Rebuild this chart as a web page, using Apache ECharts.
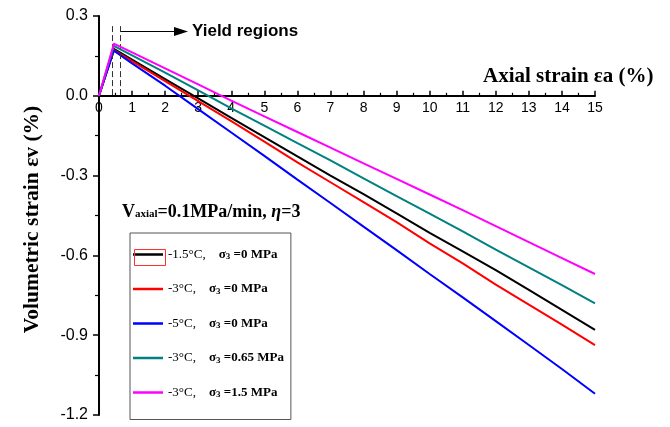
<!DOCTYPE html>
<html>
<head>
<meta charset="utf-8">
<script src="https://cdn.jsdelivr.net/npm/echarts@6/dist/echarts.min.js"></script>
<style>
  html, body { margin: 0; padding: 0; background: #fff; }
  #chart { width: 670px; height: 427px; }
</style>
</head>
<body>
<div id="chart"></div>
<script>
  // axial strain (%) sample positions
  const strainAxial = [0, 0.45, 1, 2, 3, 4, 5, 6, 7, 8, 9, 10, 11, 12, 13, 14, 15]

  // volumetric strain (%) for each test
  const volT15P0 = [0, 0.176, 0.136, 0.063, -0.01, -0.083, -0.155, -0.228, -0.3, -0.37, -0.442, -0.515, -0.585, -0.655, -0.73, -0.805, -0.88]
  const volT3P0 = [0, 0.172, 0.13, 0.055, -0.02, -0.095, -0.172, -0.25, -0.325, -0.4, -0.475, -0.555, -0.63, -0.71, -0.785, -0.86, -0.937]
  const volT5P0 = [0, 0.17, 0.122, 0.038, -0.05, -0.138, -0.226, -0.315, -0.403, -0.492, -0.58, -0.67, -0.758, -0.847, -0.937, -1.027, -1.12]
  const volT3P065 = [0, 0.188, 0.152, 0.087, 0.02, -0.047, -0.112, -0.178, -0.243, -0.31, -0.377, -0.443, -0.51, -0.578, -0.645, -0.712, -0.78]
  const volT3P15 = [0, 0.196, 0.163, 0.103, 0.043, -0.018, -0.077, -0.136, -0.195, -0.254, -0.312, -0.371, -0.43, -0.49, -0.55, -0.61, -0.67]

  const temps = ['-1.5°C', '-3°C', '-5°C', '-3°C', '-3°C']
  const pressures = ['0 MPa', '0 MPa', '0 MPa', '0.65 MPa', '1.5 MPa']
  const colors = ['#000000', '#ff0000', '#0000ff', '#008080', '#ff00ff']
  const seriesValues = [volT15P0, volT3P0, volT5P0, volT3P065, volT3P15]

  // yield region markers (axial strain %)
  const yieldBounds = [0.4, 0.64]

  const serif = '"Liberation Serif", "Times New Roman", serif'
  const sans = '"Liberation Sans", Arial, sans-serif'

  const gridTop = 16
  const gridBottom = 12
  const yMin = -1.2
  const yMax = 0.3

  const chart = echarts.init(document.getElementById('chart'))

  const names = temps.map((t, i) => t + '|' + pressures[i] + '|' + i)

  const series = seriesValues.map((vals, i) => ({
    name: names[i],
    type: 'line',
    symbol: 'none',
    data: strainAxial.map((x, k) => [x, vals[k]]),
    lineStyle: { color: colors[i], width: 2 },
    itemStyle: { color: colors[i] },
    z: 2 + i
  }))

  // dashed yield bounds and arrow
  series[4].markLine = {
    silent: true,
    symbol: 'none',
    label: { show: false },
    lineStyle: { color: '#333', width: 1, type: [6, 3] },
    data: yieldBounds.map(x => [{ coord: [x, 0.262] }, { coord: [x, 0] }])
  }
  series[3].markLine = {
    silent: true,
    symbol: ['none', 'triangle'],
    symbolSize: [9, 14],
    label: { show: false },
    lineStyle: { color: '#000', width: 1.2, type: 'solid' },
    data: [[{ coord: [yieldBounds[1], 0.242] }, { coord: [2.48, 0.242] }]]
  }

  // put the x axis line on y = 0 (shift up from the grid bottom)
  const plotH = 427 - gridTop - gridBottom
  const zeroShift = plotH * (0 - yMin) / (yMax - yMin)

  const option = {
    animation: false,
    backgroundColor: '#fff',
    grid: { left: 99, right: 75, top: gridTop, bottom: gridBottom, outerBoundsMode: 'none', containLabel: false },
    xAxis: {
      type: 'value',
      min: 0,
      max: 15,
      interval: 1,
      position: 'bottom',
      offset: -zeroShift,
      axisLine: { onZero: false, lineStyle: { color: '#000', width: 2 } },
      axisTick: { inside: true, length: 5, lineStyle: { color: '#000', width: 1.5 } },
      minorTick: { show: true, splitNumber: 2, length: 3, lineStyle: { color: '#000', width: 1.2 } },
      axisLabel: { color: '#000', fontSize: 14, fontFamily: sans, margin: 5 },
      splitLine: { show: false }
    },
    yAxis: {
      type: 'value',
      min: yMin,
      max: yMax,
      interval: 0.3,
      name: 'Volumetric strain εv (%)',
      nameLocation: 'middle',
      nameRotate: 90,
      nameGap: 56,
      nameTextStyle: { color: '#000', fontFamily: serif, fontWeight: 'bold', fontSize: 21.5, padding: [0, 8, 0, 0] },
      axisLine: { onZero: false, lineStyle: { color: '#000', width: 2 } },
      axisTick: { length: 6, lineStyle: { color: '#000', width: 1.5 } },
      minorTick: { show: true, splitNumber: 2, length: 4, lineStyle: { color: '#000', width: 1.2 } },
      axisLabel: {
        color: '#000', fontSize: 16, fontFamily: sans, margin: 11,
        formatter: v => v.toFixed(1)
      },
      splitLine: { show: false }
    },
    legend: {
      orient: 'vertical',
      left: 130,
      top: 233,
      backgroundColor: '#fff',
      borderColor: '#555',
      borderWidth: 1,
      borderRadius: 0,
      padding: [15, 7, 20, 3],
      icon: 'path://M0,0L30,0L30,2.5L0,2.5Z',
      itemWidth: 30,
      itemHeight: 14,
      itemGap: 21,
      data: names,
      formatter: name => {
        const [t, p] = name.split('|')
        return '{t|' + t + ',}    {b|σ}{s|3}{b| =' + p + '}'
      },
      textStyle: {
        color: '#000',
        fontFamily: serif,
        fontSize: 13,
        rich: {
          t: { fontFamily: serif, fontSize: 13, color: '#000' },
          b: { fontFamily: serif, fontSize: 13, fontWeight: 'bold', color: '#000' },
          s: { fontFamily: serif, fontSize: 9, fontWeight: 'bold', color: '#000', padding: [5, 0, 0, 0] }
        }
      }
    },
    graphic: [
      {
        type: 'text',
        left: 483,
        top: 66,
        style: {
          text: 'Axial strain εa (%)',
          font: 'bold 21px ' + serif,
          fill: '#000'
        }
      },
      {
        type: 'text',
        left: 192,
        top: 23,
        style: {
          text: 'Yield regions',
          font: 'bold 17px ' + sans,
          fill: '#000'
        }
      },
      {
        type: 'text',
        left: 122,
        top: 203,
        style: {
          text: '{v|V}{s|axial}{v|=0.1MPa/min, }{i|η}{v|=3}',
          rich: {
            v: { fontFamily: serif, fontSize: 18, fontWeight: 'bold', fill: '#000' },
            s: { fontFamily: serif, fontSize: 11, fontWeight: 'bold', fill: '#000', padding: [5, 0, 0, 0] },
            i: { fontFamily: serif, fontSize: 18, fontWeight: 'bold', fontStyle: 'italic', fill: '#000' }
          }
        }
      },
      {
        type: 'rect',
        left: 132,
        top: 247,
        z: 100,
        shape: { width: 31, height: 16 },
        style: { fill: 'none', stroke: '#ff3030', lineWidth: 1 }
      }
    ],
    series
  }

  chart.setOption(option)
</script>
</body>
</html>
